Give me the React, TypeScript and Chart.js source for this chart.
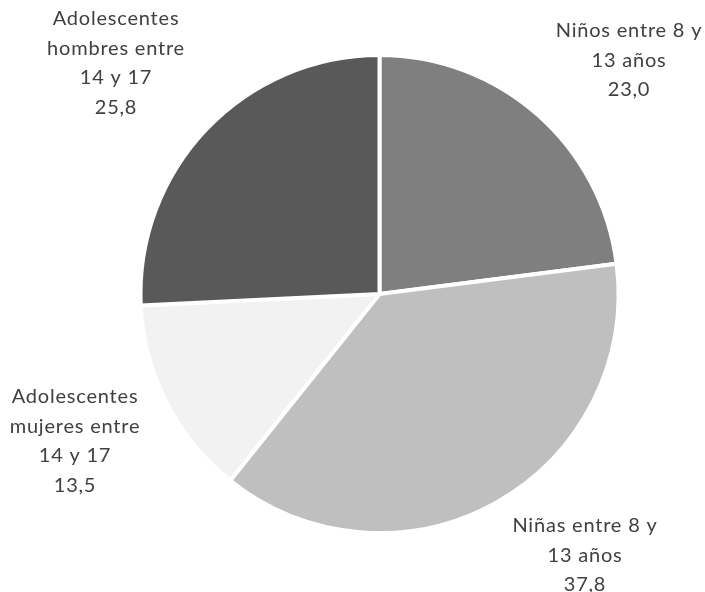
import React, { useEffect, useRef } from "react";
import { Chart, registerables } from "chart.js";

Chart.register(...registerables);

const categories: string[][] = [
  ["Niños entre 8 y", "13 años"],
  ["Niñas entre 8 y", "13 años"],
  ["Adolescentes", "mujeres entre", "14 y 17"],
  ["Adolescentes", "hombres entre", "14 y 17"],
];
const values: number[] = [23.0, 37.8, 13.5, 25.8];
const valueLabels: string[] = ["23,0", "37,8", "13,5", "25,8"];
const colors: string[] = ["#7f7f7f", "#bfbfbf", "#f2f2f2", "#595959"];

// label anchor (center of first line) in canvas px
const labelAnchors: [number, number][] = [
  [629, 31],
  [585, 526],
  [75, 397],
  [116, 19],
];

const labelPlugin = {
  id: "sliceLabels",
  afterDraw(chart: any) {
    const ctx = chart.ctx;
    ctx.save();
    ctx.font = '20px Lato, "Open Sans", sans-serif';
    try {
      (ctx as any).letterSpacing = "0.8px";
    } catch (e) {}
    ctx.fillStyle = "#404040";
    ctx.textAlign = "center";
    ctx.textBaseline = "middle";
    const lh = 29.5;
    categories.forEach((lines, i) => {
      const all = [...lines, valueLabels[i]];
      const [x, y] = labelAnchors[i];
      all.forEach((t, j) => ctx.fillText(t, x, y + j * lh));
    });
    ctx.restore();
  },
};

export default function App() {
  const ref = useRef<HTMLCanvasElement>(null);
  useEffect(() => {
    if (!ref.current) return;
    const chart = new Chart(ref.current, {
      type: "pie",
      data: {
        labels: categories.map((c) => c.join(" ")),
        datasets: [
          {
            data: values,
            backgroundColor: colors,
            borderColor: "#ffffff",
            borderWidth: 4,
          },
        ],
      },
      options: {
        animation: false,
        responsive: false,
        layout: { padding: { left: 138.5, right: 84.5, top: 53, bottom: 57 } },
        plugins: {
          legend: { display: false },
          tooltip: { enabled: false },
        },
      },
      plugins: [labelPlugin],
    });
    return () => chart.destroy();
  }, []);
  return (
    <div style={{ position: "fixed", left: 0, top: 0, width: 705, height: 592, background: "#fff" }}>
      <canvas ref={ref} width={705} height={592} style={{ width: 705, height: 592 }} />
    </div>
  );
}
